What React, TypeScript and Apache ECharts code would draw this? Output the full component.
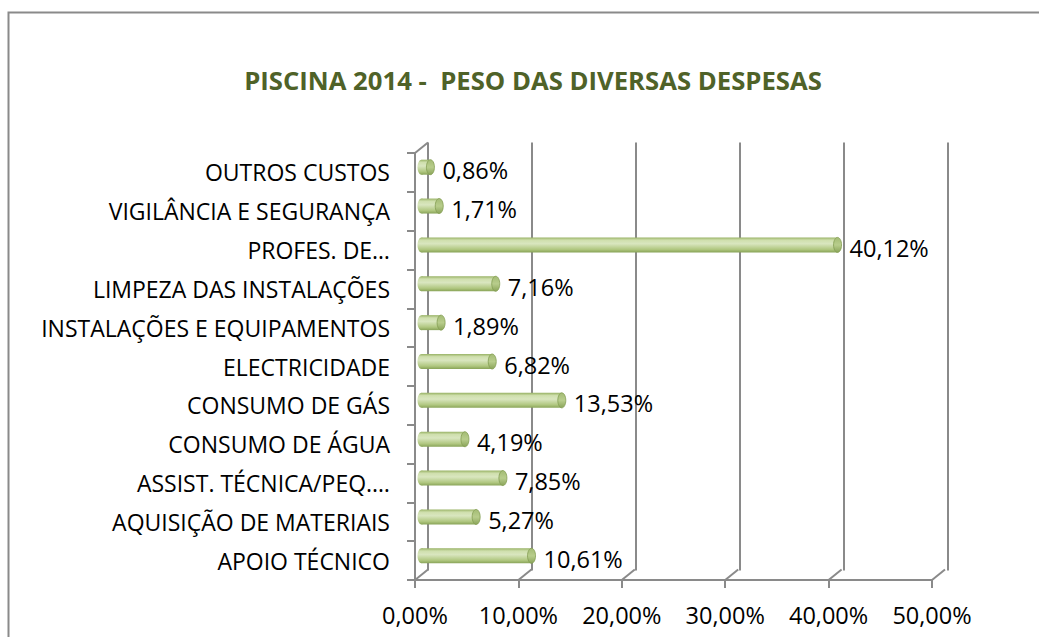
import React, { useEffect, useRef } from "react";
import * as echarts from "echarts";

const TITLE = "PISCINA 2014 -  PESO DAS DIVERSAS DESPESAS";
// bottom -> top order (category axis draws first item at the bottom)
const CATEGORIES = [
  "APOIO TÉCNICO",
  "AQUISIÇÃO DE MATERIAIS",
  "ASSIST. TÉCNICA/PEQ.…",
  "CONSUMO DE ÁGUA",
  "CONSUMO DE GÁS",
  "ELECTRICIDADE",
  "INSTALAÇÕES E EQUIPAMENTOS",
  "LIMPEZA DAS INSTALAÇÕES",
  "PROFES. DE…",
  "VIGILÂNCIA E SEGURANÇA",
  "OUTROS CUSTOS",
];
const VALUES = [10.61, 5.27, 7.85, 4.19, 13.53, 6.82, 1.89, 7.16, 40.12, 1.71, 0.86];
const X_TICKS = [0, 10, 20, 30, 40, 50];
const X_MIN = 0;
const X_MAX = 50;
const X_INTERVAL = 10;

const FONT = "'Open Sans', sans-serif";
const GRAY = "#8a8a8a";
const DEPTH_X = 13;
const DEPTH_Y = 10.5;

const fmt = (v: number) => v.toFixed(2).replace(".", ",") + "%";

export default function App() {
  const ref = useRef<HTMLDivElement>(null);
  useEffect(() => {
    if (!ref.current) return;
    const chart = echarts.init(ref.current, undefined, { renderer: "svg" });

    const front = { left: 415, top: 153, width: 517, height: 427 };
    const back = {
      left: front.left + DEPTH_X,
      top: front.top - DEPTH_Y,
      width: front.width + 3,
      height: front.height + 1,
    };
    const mid = {
      left: front.left + DEPTH_X / 2,
      top: front.top - DEPTH_Y / 2,
      width: front.width + 1.5,
      height: front.height + 0.5,
    };

    const valueAxis = (gridIndex: number, extra: any = {}) => ({
      type: "value",
      gridIndex,
      min: X_MIN,
      max: X_MAX,
      interval: X_INTERVAL,
      axisLine: { show: false },
      axisTick: { show: false },
      axisLabel: { show: false },
      splitLine: { show: false },
      ...extra,
    });
    const catAxis = (gridIndex: number, extra: any = {}) => ({
      type: "category",
      gridIndex,
      data: CATEGORIES,
      axisLine: { show: false },
      axisTick: { show: false },
      axisLabel: { show: false },
      splitLine: { show: false },
      ...extra,
    });

    const bodyGradient = new echarts.graphic.LinearGradient(0, 0, 0, 1, [
      { offset: 0, color: "#98b265" },
      { offset: 0.18, color: "#cfdfad" },
      { offset: 0.42, color: "#d9e6bf" },
      { offset: 0.8, color: "#b0c780" },
      { offset: 1, color: "#88a357" },
    ]);
    const capGradient = new echarts.graphic.LinearGradient(0, 0, 0, 1, [
      { offset: 0, color: "#a3bb74" },
      { offset: 0.5, color: "#b8cd8c" },
      { offset: 1, color: "#8aa459" },
    ]);

    const option: any = {
      animation: false,
      backgroundColor: "#ffffff",
      textStyle: { fontFamily: FONT },
      title: {
        text: TITLE,
        left: 528,
        textAlign: "center",
        top: 62,
        textStyle: { fontFamily: FONT, fontWeight: "bold", fontSize: 25.7, color: "#4f6228" },
      },
      graphic: [
        {
          type: "rect",
          shape: { x: 8.5, y: 12.5, width: 1100, height: 700 },
          style: { fill: "none", stroke: GRAY, lineWidth: 2 },
          silent: true,
          z: 0,
        },
      ],
      grid: [
        { ...back, containLabel: false },
        { ...front, containLabel: false },
        { ...mid, containLabel: false },
      ],
      xAxis: [
        valueAxis(0, {
          splitLine: { show: true, lineStyle: { color: GRAY, width: 2 } },
        }),
        valueAxis(1, {
          axisLine: { show: true, lineStyle: { color: GRAY, width: 2 } },
          axisTick: { show: true, length: 8, lineStyle: { color: GRAY, width: 2 } },
          axisLabel: {
            show: true,
            margin: 23,
            fontSize: 23.5,
            fontFamily: FONT,
            color: "#000",
            formatter: (v: number) => fmt(v),
          },
        }),
        valueAxis(2),
      ],
      yAxis: [
        catAxis(0),
        catAxis(1, {
          axisLine: { show: true, lineStyle: { color: GRAY, width: 2 } },
          axisTick: { show: true, length: 8, lineStyle: { color: GRAY, width: 2 } },
          axisLabel: {
            show: true,
            margin: 25,
            fontSize: 23,
            fontFamily: FONT,
            color: "#000",
          },
        }),
        catAxis(2),
      ],
      series: [
        {
          type: "custom",
          name: "floor",
          xAxisIndex: 1,
          yAxisIndex: 1,
          silent: true,
          clip: false,
          encode: { x: 0, y: 1 },
          data: X_TICKS.map((t) => [t, 0]),
          renderItem: (params: any, api: any) => {
            const cs = params.coordSys;
            const x = api.coord([api.value(0), 0])[0];
            const yb = cs.y + cs.height;
            return {
              type: "line",
              shape: { x1: x, y1: yb, x2: x + DEPTH_X, y2: yb - DEPTH_Y },
              style: { stroke: GRAY, lineWidth: 2 },
            };
          },
        },
        {
          type: "custom",
          name: "corner",
          xAxisIndex: 1,
          yAxisIndex: 1,
          silent: true,
          clip: false,
          encode: { x: 0, y: 1 },
          data: [[X_MIN, 0]],
          renderItem: (params: any) => {
            const cs = params.coordSys;
            return {
              type: "line",
              shape: { x1: cs.x, y1: cs.y, x2: cs.x + DEPTH_X, y2: cs.y - DEPTH_Y },
              style: { stroke: GRAY, lineWidth: 2 },
            };
          },
        },
        {
          type: "custom",
          name: "bars",
          xAxisIndex: 2,
          yAxisIndex: 2,
          clip: false,
          encode: { x: 0, y: 1 },
          data: VALUES.map((v, i) => [v, i]),
          z: 5,
          renderItem: (params: any, api: any) => {
            const v = api.value(0);
            const c = api.value(1);
            const s = api.coord([0, c]);
            const e = api.coord([v, c]);
            const h = 15;
            const rx = 4;
            return {
              type: "group",
              children: [
                {
                  type: "ellipse",
                  shape: { cx: s[0], cy: s[1], rx, ry: h / 2 },
                  style: { fill: bodyGradient },
                },
                {
                  type: "rect",
                  shape: { x: s[0], y: s[1] - h / 2, width: e[0] - s[0], height: h },
                  style: { fill: bodyGradient },
                },
                {
                  type: "ellipse",
                  shape: { cx: e[0], cy: e[1], rx, ry: h / 2 },
                  style: { fill: capGradient, stroke: "#839d52", lineWidth: 0.8 },
                },
                {
                  type: "text",
                  style: {
                    text: fmt(v),
                    x: e[0] + 12,
                    y: e[1] + 3,
                    fill: "#000",
                    fontSize: 23.5,
                    fontFamily: FONT,
                    align: "left",
                    verticalAlign: "middle",
                  },
                },
              ],
            };
          },
        },
      ],
    };
    chart.setOption(option);
    return () => chart.dispose();
  }, []);
  return (
    <div
      ref={ref}
      style={{ position: "fixed", left: 0, top: 0, width: 1039, height: 637, background: "#fff" }}
    />
  );
}
